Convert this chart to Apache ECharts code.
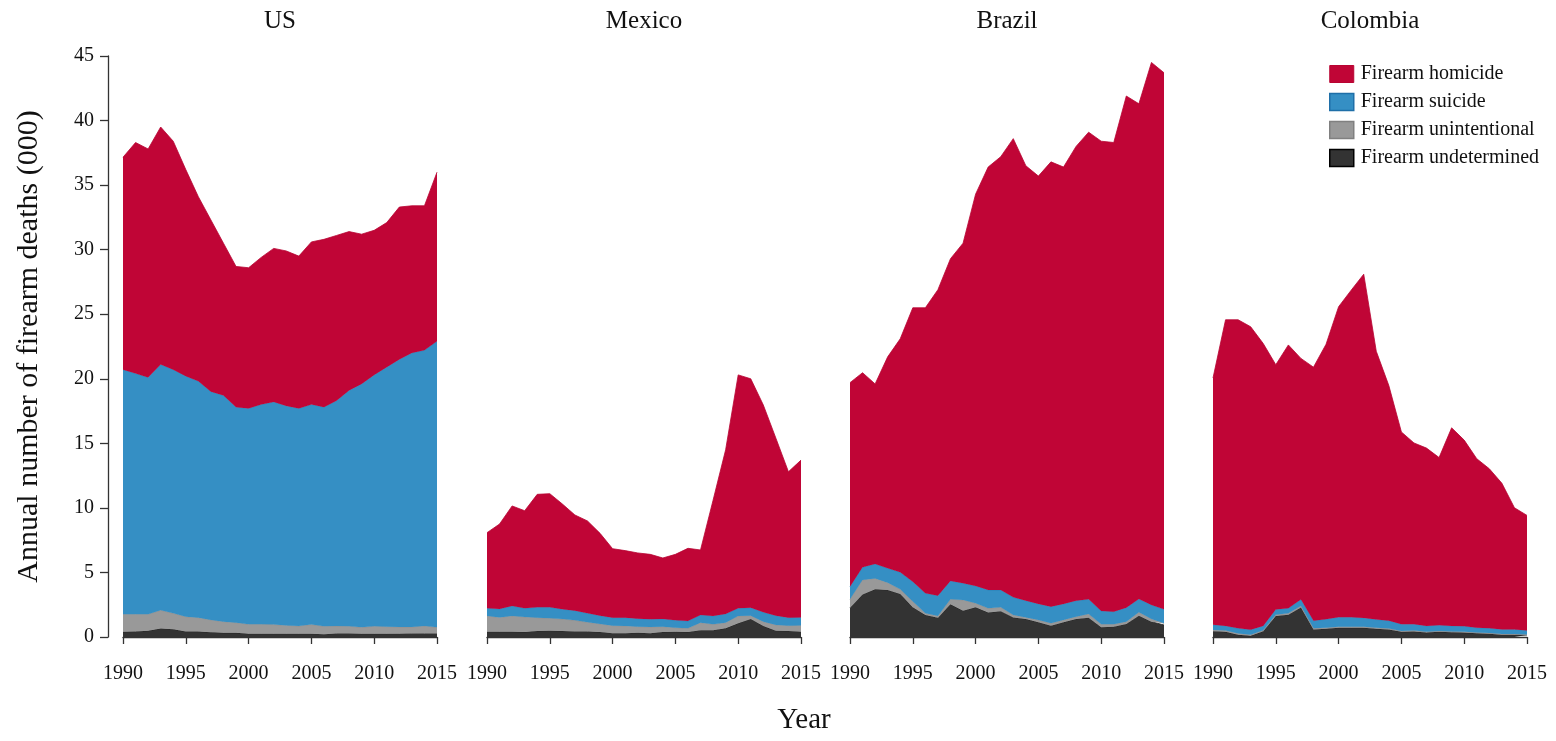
<!DOCTYPE html>
<html><head><meta charset="utf-8">
<script src="https://cdn.jsdelivr.net/npm/echarts/dist/echarts.min.js"></script>
<style>html,body{margin:0;padding:0;background:#fff}#c{width:1556px;height:741px}</style>
</head><body><div id="c"></div>
<script>
const years = ['1990','1991','1992','1993','1994','1995','1996','1997','1998','1999','2000','2001','2002','2003','2004','2005','2006','2007','2008','2009','2010','2011','2012','2013','2014','2015'];
const countries = ['US','Mexico','Brazil','Colombia'];
const seriesNames = ['Firearm undetermined','Firearm unintentional','Firearm suicide','Firearm homicide'];

// values in thousands of deaths
const usHomicide = [16.46,17.9,17.7,18.4,17.7,16.0,14.3,13.3,11.8,10.9,10.9,11.4,11.9,12.0,11.8,12.6,13.0,12.8,12.3,11.6,11.2,11.2,11.8,11.4,11.2,13.1];
const usSuicide = [18.94,18.64,18.34,19.03,18.87,18.63,18.30,17.68,17.51,16.69,16.72,17.02,17.24,17.00,16.85,17.04,16.97,17.45,18.27,18.85,19.47,20.10,20.72,21.22,21.35,22.15];
const usUnint = [1.36,1.34,1.28,1.42,1.23,1.15,1.08,0.96,0.87,0.79,0.73,0.73,0.71,0.65,0.60,0.71,0.61,0.58,0.56,0.50,0.58,0.55,0.52,0.50,0.58,0.47];
const usUndet = [0.40,0.42,0.48,0.65,0.60,0.42,0.42,0.36,0.32,0.32,0.25,0.25,0.25,0.25,0.25,0.25,0.22,0.27,0.27,0.25,0.25,0.25,0.26,0.28,0.27,0.28];

const mxHomicide = [5.86,6.58,7.75,7.56,8.75,8.80,8.15,7.41,7.16,6.38,5.34,5.19,5.09,5.03,4.72,5.11,5.63,5.04,8.97,12.72,18.08,17.73,16.06,13.75,11.30,12.18];
const mxSuicide = [0.59,0.65,0.77,0.67,0.80,0.85,0.76,0.75,0.69,0.64,0.62,0.64,0.62,0.59,0.60,0.57,0.57,0.59,0.65,0.67,0.59,0.62,0.72,0.72,0.62,0.62];
const mxUnint = [1.22,1.11,1.22,1.17,1.04,0.96,0.93,0.86,0.71,0.63,0.58,0.56,0.47,0.48,0.42,0.31,0.29,0.58,0.45,0.44,0.57,0.25,0.34,0.44,0.42,0.49];
const mxUndet = [0.41,0.41,0.41,0.38,0.46,0.49,0.46,0.43,0.43,0.38,0.30,0.30,0.33,0.30,0.38,0.41,0.38,0.53,0.53,0.67,1.06,1.40,0.85,0.49,0.46,0.41];

const brHomicide = [15.8,15.07,13.95,16.38,18.09,21.22,22.12,23.7,24.96,26.34,30.35,32.76,33.56,35.53,33.69,33.14,34.45,33.84,35.19,36.18,36.39,36.34,39.63,38.36,42.02,41.56];
const brSuicide = [0.98,0.98,1.11,1.11,1.32,1.54,1.55,1.57,1.42,1.29,1.34,1.42,1.34,1.37,1.29,1.24,1.29,1.24,1.24,1.14,1.03,0.98,1.08,1.03,1.08,1.08];
const brUnint = [0.65,1.12,0.85,0.57,0.36,0.44,0.13,0.13,0.39,0.83,0.31,0.33,0.30,0.18,0.13,0.18,0.18,0.18,0.18,0.28,0.23,0.18,0.18,0.26,0.21,0.13];
const brUndet = [2.27,3.30,3.69,3.64,3.33,2.30,1.70,1.50,2.53,2.04,2.30,1.89,2.00,1.52,1.39,1.14,0.88,1.14,1.39,1.50,0.75,0.80,1.01,1.65,1.19,0.93];

const coHomicide = [19.12,23.71,23.90,23.47,21.87,18.96,20.40,18.68,19.64,21.30,24.05,25.33,26.62,20.78,18.21,14.89,14.04,13.77,12.99,15.34,14.42,13.09,12.36,11.32,9.42,8.92];
const coSuicide = [0.39,0.36,0.39,0.39,0.33,0.41,0.39,0.49,0.59,0.65,0.73,0.73,0.68,0.63,0.60,0.52,0.49,0.45,0.45,0.43,0.43,0.37,0.36,0.36,0.36,0.30];
const coUnint = [0.10,0.10,0.10,0.08,0.08,0.10,0.10,0.12,0.08,0.08,0.08,0.08,0.08,0.08,0.07,0.07,0.07,0.07,0.06,0.06,0.06,0.06,0.05,0.05,0.05,0.05];
const coUndet = [0.45,0.40,0.18,0.09,0.45,1.62,1.73,2.29,0.59,0.64,0.72,0.72,0.72,0.64,0.59,0.40,0.43,0.34,0.40,0.37,0.34,0.29,0.26,0.18,0.18,0.15];

const yAxisTitle = 'Annual number of firearm deaths (000)';
const xAxisTitle = 'Year';

const countryData = [
  [usUndet, usUnint, usSuicide, usHomicide],
  [mxUndet, mxUnint, mxSuicide, mxHomicide],
  [brUndet, brUnint, brSuicide, brHomicide],
  [coUndet, coUnint, coSuicide, coHomicide]
];

const FONT = '"Liberation Serif", "Times New Roman", serif';
const fillColors = ['#333333', '#999999', '#358FC4', '#C00536'];
const edgeColors = ['#222222', '#8c8c8c', '#2a7fb6', '#b80432'];

const gridLefts = [123, 487, 850, 1213];
const gridW = 314, gridTop = 56, gridH = 581;

const grids = [], xAxes = [], yAxes = [], series = [], graphics = [];
countries.forEach((c, i) => {
  grids.push({left: gridLefts[i], top: gridTop, width: gridW, height: gridH, containLabel: false, outerBoundsMode: 'none'});
  xAxes.push({
    type: 'category', gridIndex: i, data: years, boundaryGap: false, offset: 16,
    axisLine: {show: true, lineStyle: {color: '#333', width: 1.3}},
    axisTick: {show: true, inside: false, length: 7, interval: 4, lineStyle: {color: '#333', width: 1.3}},
    axisLabel: {interval: 4, margin: 11, fontFamily: FONT, fontSize: 20, color: '#111'},
    splitLine: {show: false}
  });
  yAxes.push({
    type: 'value', gridIndex: i, min: 0, max: 45, interval: 5,
    show: i === 0, offset: 15,
    name: i === 0 ? yAxisTitle : '', nameLocation: 'middle', nameGap: 64,
    nameTextStyle: {fontFamily: FONT, fontSize: 30, color: '#111'},
    axisLine: {show: true, lineStyle: {color: '#333', width: 1.3}},
    axisTick: {show: true, inside: false, length: 8, lineStyle: {color: '#333', width: 1.3}},
    axisLabel: {margin: 14, fontFamily: FONT, fontSize: 20, color: '#111'},
    splitLine: {show: false}
  });
  countryData[i].forEach((vals, k) => {
    series.push({
      name: seriesNames[k], type: 'line', xAxisIndex: i, yAxisIndex: i,
      stack: 'total' + i, data: vals, symbol: 'none', silent: true,
      lineStyle: {width: 0.8, color: edgeColors[k]},
      itemStyle: {color: fillColors[k]},
      areaStyle: {color: fillColors[k], opacity: 1},
      z: 2 + k
    });
  });
  graphics.push({
    type: 'text', x: gridLefts[i] + gridW / 2, y: 21,
    style: {text: c, textAlign: 'center', textVerticalAlign: 'middle', font: '25px ' + FONT, fill: '#111'}
  });
});
graphics.push({
  type: 'text', x: 804, y: 720,
  style: {text: xAxisTitle, textAlign: 'center', textVerticalAlign: 'middle', font: '29px ' + FONT, fill: '#111'}
});

const chart = echarts.init(document.getElementById('c'));
chart.setOption({
  animation: false,
  backgroundColor: '#ffffff',
  grid: grids, xAxis: xAxes, yAxis: yAxes, series: series,
  graphic: graphics,
  legend: {
    orient: 'vertical', left: 1324, top: 59, itemWidth: 24, itemHeight: 17, itemGap: 8,
    icon: 'rect', selectedMode: false,
    textStyle: {fontFamily: FONT, fontSize: 20, color: '#111', padding: [0, 0, 0, 2]},
    data: [
      {name: 'Firearm homicide', itemStyle: {color: fillColors[3], borderColor: edgeColors[3], borderWidth: 1}},
      {name: 'Firearm suicide', itemStyle: {color: fillColors[2], borderColor: '#1f6fa8', borderWidth: 1.5}},
      {name: 'Firearm unintentional', itemStyle: {color: fillColors[1], borderColor: '#808080', borderWidth: 1.5}},
      {name: 'Firearm undetermined', itemStyle: {color: fillColors[0], borderColor: '#000', borderWidth: 1.5}}
    ]
  }
});
</script></body></html>
